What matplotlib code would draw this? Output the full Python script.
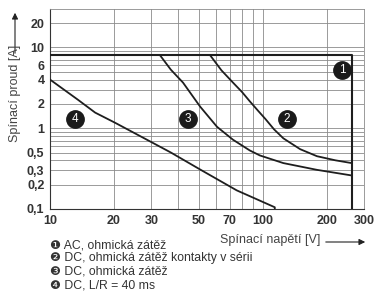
import matplotlib
matplotlib.use("Agg")
import matplotlib.pyplot as plt

plt.rcParams["font.family"] = ["Liberation Sans", "DejaVu Sans"]

# switching voltage [V] / current [A]
ac_v = [10, 262, 262]
ac_i = [8, 8, 0.1]

dc_series_v = [56.6, 64, 72.5, 80, 87, 95, 103, 113, 125, 150, 180, 220, 262]
dc_series_i = [8, 5.2, 3.67, 2.8, 2.15, 1.65, 1.3, 0.97, 0.75, 0.55, 0.45, 0.4, 0.37]

dc_v = [32.9, 37, 42.2, 50.8, 61, 72.5, 87, 97, 125, 180, 262]
dc_i = [8, 5.3, 3.67, 1.85, 1.04, 0.72, 0.53, 0.46, 0.37, 0.305, 0.26]

dc_lr_v = [10, 13.5, 16.3, 20.2, 28, 37, 50.6, 75.5, 114, 114]
dc_lr_i = [4, 2.26, 1.56, 1.17, 0.74, 0.5, 0.31, 0.17, 0.105, 0.1]

x_ticks = [10, 20, 30, 50, 70, 100, 200, 300]
x_grid = [20, 30, 40, 50, 60, 70, 80, 90, 100, 200]
y_ticks = [0.1, 0.2, 0.3, 0.5, 1, 2, 4, 6, 10, 20]
y_tick_labels = ["0,1", "0,2", "0,3", "0,5", "1", "2", "4", "6", "10", "20"]
y_grid = [0.2, 0.3, 0.4, 0.5, 0.6, 0.7, 0.8, 0.9, 1, 2, 3, 4, 5, 6, 7, 8, 9, 10, 20]

legend_items = [
    "\u2776 AC, ohmická zátěž",
    "\u2777 DC, ohmická zátěž kontakty v sérii",
    "\u2778 DC, ohmická zátěž",
    "\u2779 DC, L/R = 40 ms",
]

fig = plt.figure(figsize=(3.74, 2.96), dpi=100)
ax = fig.add_axes([0.1337, 0.294, 0.84, 0.676])
ax.set_xscale("log")
ax.set_yscale("log")
ax.set_xlim(10, 300)
ax.set_ylim(0.1, 30)

for v in x_grid:
    ax.axvline(v, color="#8a8a8a", lw=0.6, zorder=1)
for i in y_grid:
    ax.axhline(i, color="#8a8a8a", lw=0.6, zorder=1)

lc = "#1e1e1e"
ax.plot(ac_v, ac_i, color=lc, lw=1.5, zorder=3)
ax.plot(dc_series_v, dc_series_i, color=lc, lw=1.3, zorder=3)
ax.plot(dc_v, dc_i, color=lc, lw=1.3, zorder=3)
ax.plot(dc_lr_v, dc_lr_i, color=lc, lw=1.3, zorder=3)

# numbered markers on the curves
for n, (x, y) in enumerate([(236, 5.2), (130, 1.31), (44.6, 1.31), (13.1, 1.31)], 1):
    ax.plot(x, y, "o", ms=12.5, color="#1a1a1a", zorder=4)
    ax.text(x, y, str(n), color="white", fontsize=8.5, ha="center", va="center",
            zorder=5)

ax.set_xticks(x_ticks)
ax.set_xticklabels([str(v) for v in x_ticks])
ax.set_yticks(y_ticks)
ax.set_yticklabels(y_tick_labels)
ax.minorticks_off()
ax.tick_params(length=0, labelsize=9, colors="#333333", pad=4)
for lab in ax.get_xticklabels() + ax.get_yticklabels():
    lab.set_fontweight("bold")
for side in ["top", "right"]:
    ax.spines[side].set_color("#8a8a8a")
    ax.spines[side].set_linewidth(0.6)
for side in ["left", "bottom"]:
    ax.spines[side].set_color("#333333")
    ax.spines[side].set_linewidth(0.8)

# axis labels with arrows
fig.text(15 / 374, 1 - 93 / 296, "Spínací proud [A]", rotation=90,
         ha="center", va="center", fontsize=9, color="#444444")
fig.add_artist(matplotlib.patches.FancyArrowPatch(
    (15 / 374, 1 - 56 / 296), (15 / 374, 1 - 10 / 296),
    transform=fig.transFigure, arrowstyle="-|>", mutation_scale=9,
    color="#222222", lw=0.8))
fig.text(270 / 374, 1 - 240 / 296, "Spínací napětí [V]",
         ha="center", va="center", fontsize=9, color="#444444")
fig.add_artist(matplotlib.patches.FancyArrowPatch(
    (323 / 374, 1 - 242 / 296), (368 / 374, 1 - 242 / 296),
    transform=fig.transFigure, arrowstyle="-|>", mutation_scale=9,
    color="#222222", lw=0.8))

for k, t in enumerate(legend_items):
    fig.text(50 / 374, 1 - (245 + 13.5 * k) / 296, t, ha="left", va="center",
             fontsize=8.8, color="#333333")

fig.savefig("out.png", dpi=100)
